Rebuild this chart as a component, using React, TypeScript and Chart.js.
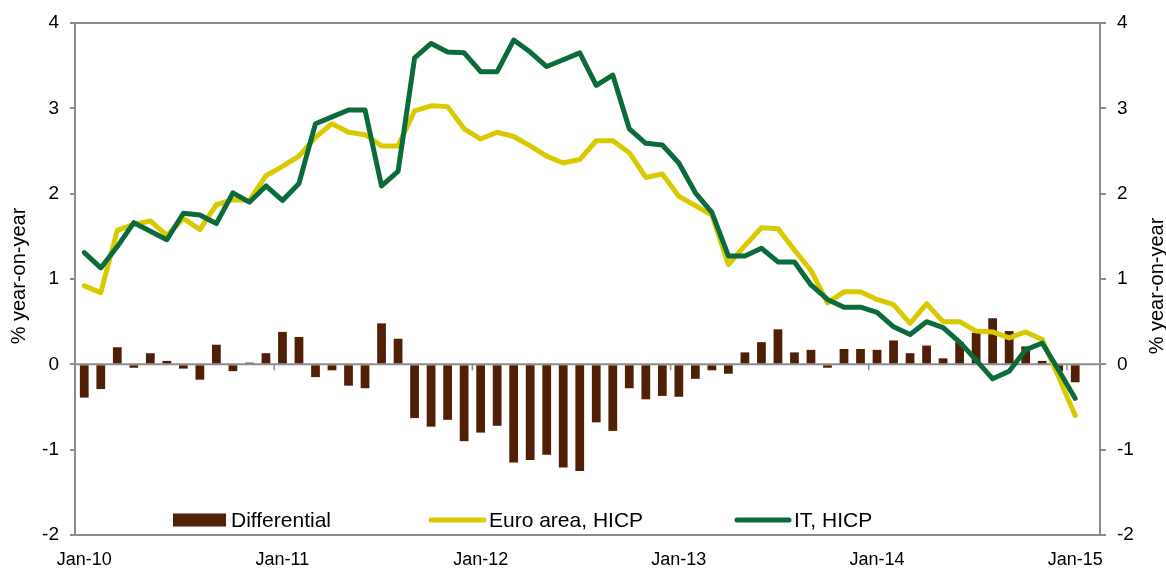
import React, { useEffect, useRef } from "react";
import { Chart, registerables } from "chart.js";

Chart.register(...registerables);

const MONTHS = ["Jan", "Feb", "Mar", "Apr", "May", "Jun", "Jul", "Aug", "Sep", "Oct", "Nov", "Dec"];
const YEARS = ["10", "11", "12", "13", "14", "15"];
// Jan-10 .. Feb-15 (last category left empty, as in the source)
const categories: string[] = [];
YEARS.forEach((y) => MONTHS.forEach((m) => categories.push(m + "-" + y)));
categories.length = 62;

const euroArea = [
  0.92, 0.84, 1.57, 1.64, 1.68, 1.51, 1.71, 1.58, 1.87, 1.93, 1.92, 2.21,
  2.32, 2.44, 2.66, 2.82, 2.72, 2.69, 2.56, 2.56, 2.97, 3.03, 3.02, 2.76,
  2.64, 2.72, 2.67, 2.56, 2.44, 2.36, 2.40, 2.62, 2.62, 2.48, 2.19, 2.23,
  1.97, 1.86, 1.75, 1.17, 1.39, 1.60, 1.59, 1.34, 1.10, 0.72, 0.85, 0.85,
  0.76, 0.70, 0.48, 0.71, 0.50, 0.50, 0.39, 0.38, 0.31, 0.38, 0.29, -0.15,
  -0.60,
];

const italy = [
  1.31, 1.13, 1.38, 1.66, 1.56, 1.46, 1.77, 1.75, 1.65, 2.01, 1.90, 2.09,
  1.92, 2.12, 2.82, 2.90, 2.98, 2.98, 2.09, 2.26, 3.59, 3.76, 3.66, 3.65,
  3.43, 3.43, 3.80, 3.66, 3.49, 3.57, 3.65, 3.27, 3.39, 2.76, 2.59, 2.57,
  2.36, 2.01, 1.78, 1.27, 1.27, 1.36, 1.20, 1.20, 0.93, 0.76, 0.67, 0.67,
  0.61, 0.44, 0.35, 0.50, 0.43, 0.26, 0.05, -0.17, -0.08, 0.17, 0.25, -0.07,
  -0.40,
];

const differential = [
  -0.39, -0.29, 0.20, -0.04, 0.13, 0.04, -0.05, -0.18, 0.23, -0.08, 0.02, 0.13,
  0.38, 0.32, -0.15, -0.07, -0.25, -0.28, 0.48, 0.30, -0.63, -0.73, -0.65, -0.90,
  -0.80, -0.72, -1.15, -1.12, -1.06, -1.21, -1.25, -0.68, -0.78, -0.28, -0.41, -0.37,
  -0.38, -0.17, -0.07, -0.11, 0.14, 0.26, 0.41, 0.14, 0.17, -0.04, 0.18, 0.18,
  0.17, 0.28, 0.13, 0.22, 0.07, 0.26, 0.37, 0.54, 0.39, 0.21, 0.04, -0.08,
  -0.21,
];

const Y_MIN = -2;
const Y_MAX = 4;
const AXIS_TITLE = "% year-on-year";

const FONT = "'Liberation Sans', Arial, sans-serif";
const GREY = "#8c8c8c";
const BROWN = "#4f1f08";
const YELLOW = "#d9ca00";
const GREEN = "#0b6b3a";

const framePlugin = {
  id: "frame",
  beforeDatasetsDraw(chart: any) {
    const { ctx, chartArea } = chart;
    const x = chart.scales.x;
    const y = chart.scales.y;
    const zero = y.getPixelForValue(0);
    ctx.save();
    ctx.strokeStyle = GREY;
    ctx.lineWidth = 2;
    // frame
    ctx.strokeRect(chartArea.left - 1, chartArea.top, chartArea.right - chartArea.left + 1, chartArea.bottom - chartArea.top);
    // zero line
    ctx.beginPath();
    ctx.moveTo(chartArea.left, zero);
    ctx.lineTo(chartArea.right, zero);
    ctx.stroke();
    // year tick marks on zero line
    ctx.lineWidth = 1.5;
    for (let i = 12; i < categories.length; i += 12) {
      const px = (x.getPixelForValue(i - 1) + x.getPixelForValue(i)) / 2;
      ctx.beginPath();
      ctx.moveTo(px, zero);
      ctx.lineTo(px, zero + 6);
      ctx.stroke();
    }
    ctx.restore();
  },
  afterDraw(chart: any) {
    const { ctx, chartArea } = chart;
    ctx.save();
    // axis titles (both read bottom-to-top)
    ctx.fillStyle = "#000";
    ctx.font = "20px " + FONT;
    ctx.textAlign = "center";
    ctx.textBaseline = "middle";
    const midY = (chartArea.top + chartArea.bottom) / 2;
    ctx.save();
    ctx.translate(19, midY - 3);
    ctx.rotate(-Math.PI / 2);
    ctx.fillText(AXIS_TITLE, 0, 0);
    ctx.restore();
    ctx.save();
    ctx.translate(1157, midY + 7);
    ctx.rotate(-Math.PI / 2);
    ctx.fillText(AXIS_TITLE, 0, 0);
    ctx.restore();

    // legend inside plot area
    const ds = chart.data.datasets;
    const ly = chartArea.bottom - 15;
    const L = chartArea.left;
    ctx.font = "21px " + FONT;
    ctx.textAlign = "left";
    ctx.textBaseline = "middle";
    // Differential
    ctx.fillStyle = BROWN;
    ctx.fillRect(L + 97, ly - 6.5, 53, 13);
    ctx.fillStyle = "#000";
    ctx.fillText(ds[0].label, L + 155, ly + 1);
    // Euro area
    ctx.lineCap = "round";
    ctx.lineWidth = 5;
    ctx.strokeStyle = YELLOW;
    ctx.beginPath();
    ctx.moveTo(L + 355, ly);
    ctx.lineTo(L + 408, ly);
    ctx.stroke();
    ctx.fillText(ds[1].label, L + 413, ly + 1);
    // IT
    ctx.strokeStyle = GREEN;
    ctx.beginPath();
    ctx.moveTo(L + 661, ly);
    ctx.lineTo(L + 713, ly);
    ctx.stroke();
    ctx.fillText(ds[2].label, L + 718, ly + 1);
    ctx.restore();
  },
};

export default function App() {
  const ref = useRef<HTMLCanvasElement | null>(null);

  useEffect(() => {
    if (!ref.current) return;
    const yTicks = {
      stepSize: 1,
      color: "#000",
      font: { family: FONT, size: 19 },
      padding: 11,
    };
    const chart = new Chart(ref.current, {
      type: "bar",
      data: {
        labels: categories,
        datasets: [
          {
            type: "bar",
            label: "Differential",
            data: differential,
            backgroundColor: BROWN,
            categoryPercentage: 1,
            barPercentage: 0.53,
            yAxisID: "y",
            order: 3,
          },
          {
            type: "line",
            label: "Euro area, HICP",
            data: euroArea,
            borderColor: YELLOW,
            borderWidth: 5,
            pointRadius: 0,
            tension: 0,
            borderJoinStyle: "round",
            borderCapStyle: "round",
            fill: false,
            yAxisID: "y",
            order: 2,
          },
          {
            type: "line",
            label: "IT, HICP",
            data: italy,
            borderColor: GREEN,
            borderWidth: 5,
            pointRadius: 0,
            tension: 0,
            borderJoinStyle: "round",
            borderCapStyle: "round",
            fill: false,
            yAxisID: "y",
            order: 1,
          },
        ] as any,
      },
      options: {
        animation: false,
        responsive: false,
        maintainAspectRatio: false,
        layout: { padding: { top: 23, left: 0, right: 0, bottom: 0 } },
        plugins: {
          legend: { display: false },
          tooltip: { enabled: false },
        },
        scales: {
          x: {
            type: "category",
            offset: true,
            grid: { display: false, drawTicks: false },
            border: { display: false },
            ticks: {
              autoSkip: false,
              maxRotation: 0,
              minRotation: 0,
              color: "#000",
              font: { family: FONT, size: 18 },
              padding: 14,
              callback: (_v: any, i: number) => (i % 12 === 0 ? categories[i] : ""),
            },
            afterFit: (s: any) => {
              s.height = 34;
            },
          },
          y: {
            position: "left",
            min: Y_MIN,
            max: Y_MAX,
            ticks: yTicks,
            grid: { drawOnChartArea: false, drawTicks: true, tickLength: 6, color: GREY, lineWidth: 2 },
            border: { display: false },
            afterFit: (s: any) => {
              s.width = 76;
            },
          },
          y2: {
            position: "right",
            min: Y_MIN,
            max: Y_MAX,
            ticks: yTicks,
            grid: { drawOnChartArea: false, drawTicks: true, tickLength: 6, color: GREY, lineWidth: 2 },
            border: { display: false },
            afterFit: (s: any) => {
              s.width = 66;
            },
          },
        },
      } as any,
      plugins: [framePlugin],
    });
    return () => chart.destroy();
  }, []);

  return (
    <div style={{ position: "fixed", left: 0, top: 0, width: 1166, height: 569, background: "#fff" }}>
      <canvas ref={ref} width={1166} height={569} style={{ width: 1166, height: 569 }} />
    </div>
  );
}
